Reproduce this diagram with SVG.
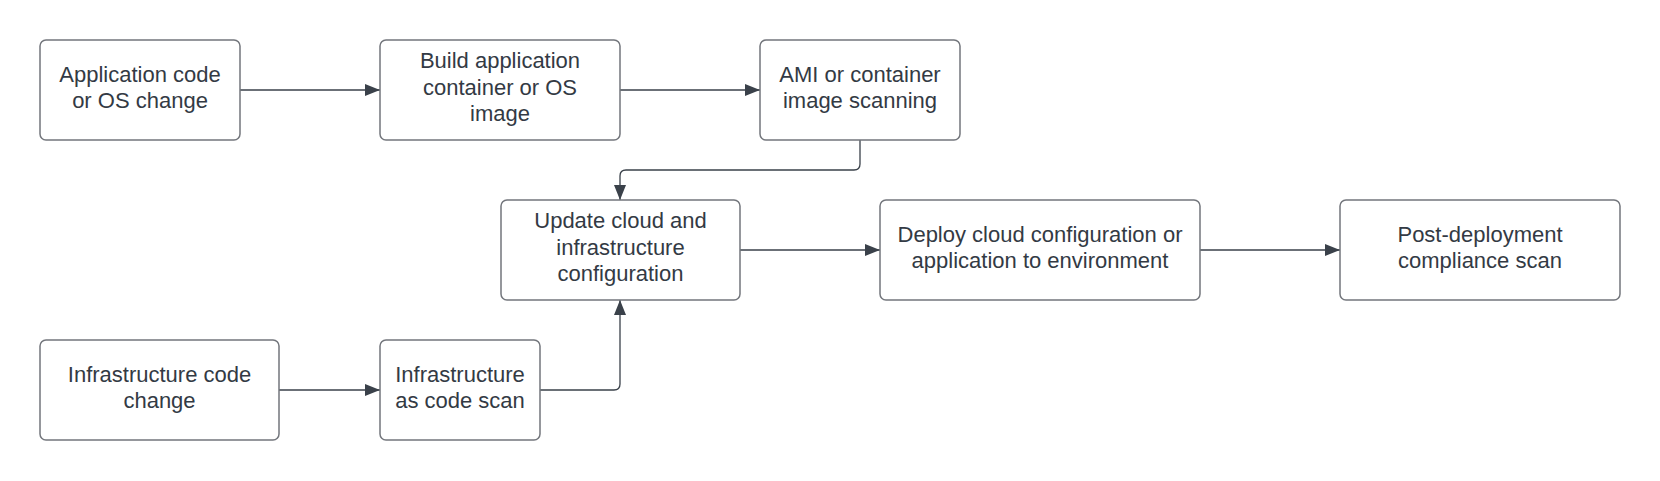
<svg xmlns="http://www.w3.org/2000/svg" width="1660" height="481" viewBox="0 0 1660 481">
<style>
.box{fill:#ffffff;stroke:#73767c;stroke-width:1.5}
.t{font-family:"Liberation Sans",Arial,sans-serif;font-size:22px;fill:#333a44;text-anchor:middle}
.c{fill:none;stroke:#3a414a;stroke-width:1.3}
</style>
<defs>
<marker id="ah" markerWidth="15" markerHeight="12" refX="15" refY="6" orient="auto" markerUnits="userSpaceOnUse">
<path d="M0,0 L15,6 L0,12 Z" fill="#3a414a"/>
</marker>
</defs>
<rect width="1660" height="481" fill="#ffffff"/>
<g id="connectors">
<path class="c" d="M240,90 H380" marker-end="url(#ah)"/>
<path class="c" d="M620,90 H760" marker-end="url(#ah)"/>
<path class="c" d="M860,140 V164 Q860,170 854,170 H626 Q620,170 620,176 V200" marker-end="url(#ah)"/>
<path class="c" d="M740,250 H880" marker-end="url(#ah)"/>
<path class="c" d="M1200,250 H1340" marker-end="url(#ah)"/>
<path class="c" d="M279,390 H380" marker-end="url(#ah)"/>
<path class="c" d="M540,390 H614 Q620,390 620,384 V300" marker-end="url(#ah)"/>
</g>
<g id="app-change">
<rect class="box" x="40" y="40" width="200" height="100" rx="6"/>
<text class="t" x="140" y="81.5">Application code</text>
<text class="t" x="140" y="108">or OS change</text>
</g>
<g id="build-image">
<rect class="box" x="380" y="40" width="240" height="100" rx="6"/>
<text class="t" x="500" y="68">Build application</text>
<text class="t" x="500" y="94.5">container or OS</text>
<text class="t" x="500" y="121">image</text>
</g>
<g id="image-scan">
<rect class="box" x="760" y="40" width="200" height="100" rx="6"/>
<text class="t" x="860" y="81.5">AMI or container</text>
<text class="t" x="860" y="108">image scanning</text>
</g>
<g id="update-config">
<rect class="box" x="501" y="200" width="239" height="100" rx="6"/>
<text class="t" x="620.5" y="228">Update cloud and</text>
<text class="t" x="620.5" y="254.5">infrastructure</text>
<text class="t" x="620.5" y="281">configuration</text>
</g>
<g id="deploy">
<rect class="box" x="880" y="200" width="320" height="100" rx="6"/>
<text class="t" x="1040" y="241.5">Deploy cloud configuration or</text>
<text class="t" x="1040" y="268">application to environment</text>
</g>
<g id="post-deploy-scan">
<rect class="box" x="1340" y="200" width="280" height="100" rx="6"/>
<text class="t" x="1480" y="241.5">Post-deployment</text>
<text class="t" x="1480" y="268">compliance scan</text>
</g>
<g id="infra-change">
<rect class="box" x="40" y="340" width="239" height="100" rx="6"/>
<text class="t" x="159.5" y="381.5">Infrastructure code</text>
<text class="t" x="159.5" y="408">change</text>
</g>
<g id="iac-scan">
<rect class="box" x="380" y="340" width="160" height="100" rx="6"/>
<text class="t" x="460" y="381.5">Infrastructure</text>
<text class="t" x="460" y="408">as code scan</text>
</g>
</svg>
